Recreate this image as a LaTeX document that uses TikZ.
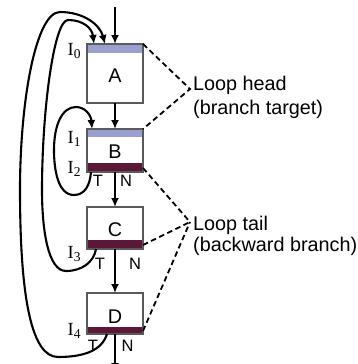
\documentclass[tikz,border=0pt]{standalone}
\usepackage{fontspec}
\setmainfont{Liberation Sans}
\newfontfamily\timesf{Liberation Serif}
\usetikzlibrary{arrows.meta}
\definecolor{headband}{RGB}{153,160,208}
\definecolor{tailband}{RGB}{92,22,56}
\definecolor{boxline}{RGB}{90,90,90}
\begin{document}
\begin{tikzpicture}[x=1pt,y=-1pt,
  blk/.style={draw=boxline, line width=1.1pt, fill=white, minimum width=56pt,
    inner sep=0pt, outer sep=0pt, font=\fontsize{19.8}{24}\selectfont},
  bands/.style 2 args={path picture={
    \fill[headband] (path picture bounding box.north west) rectangle ([yshift=-#1]path picture bounding box.north east);
    \fill[tailband] (path picture bounding box.south west) rectangle ([yshift=#2]path picture bounding box.south east);}},
  tshift/.style={text height=#1, text depth=0pt},
  conn/.style={line width=2.1pt, -{Latex[length=9pt,width=8pt]}},
  loopline/.style={line width=2.1pt, -{Latex[length=9pt,width=8pt]}},
  dashline/.style={line width=1.8pt, dash pattern=on 5.5pt off 3.5pt},
  tn/.style={inner sep=0pt, font=\fontsize{16.5}{17}\selectfont},
  ilab/.style={inner sep=0pt, anchor=base west, font=\timesf\fontsize{18.5}{18.5}\selectfont},
  note/.style={inner sep=0pt, anchor=base west, font=\fontsize{19.8}{24}\selectfont}]
\useasboundingbox (0,0) rectangle (358,364);

% blocks
\node[blk, minimum height=59pt, bands={9pt}{0pt}, tshift=17.2pt] (A) at (115,73.5) {A};
\node[blk, minimum height=43pt, bands={8pt}{9pt}, tshift=16.2pt] (B) at (115,150.5) {B};
\node[blk, minimum height=42pt, bands={0pt}{9pt}, tshift=16.2pt] (C) at (115,228) {C};
\node[blk, minimum height=41pt, bands={0pt}{7pt}, tshift=19.2pt] (D) at (115,313.5) {D};

% free ends and junctions
\coordinate (entry) at (115,7);
\coordinate (exit) at (115,372);
\coordinate (hj) at (190,89);
\coordinate (tj) at (190,222);

% straight flow
\draw[conn] (entry) -- (A.north);
\draw[conn] (A.south) -- (B.north);
\draw[conn] (B.south) -- (C.north);
\draw[conn] (C.south) -- (D.north);
\draw[conn] (D.south) -- (exit);

% loop B -> B
\draw[loopline] ([xshift=4pt]B.south west) .. controls (90,185) and (85,195) .. (74,195)
  .. controls (58,195) and (54,170) .. (54,150)
  .. controls (54,125) and (62,107) .. (76,107)
  .. controls (85,107) and (91,115) .. ([xshift=5pt]B.north west);
% loop C -> A
\draw[loopline] ([xshift=9pt]C.south west) .. controls (94,262) and (82,271) .. (66,271)
  .. controls (48,271) and (42,230) .. (42,190)
  .. controls (42,110) and (54,20) .. (68,20)
  .. controls (83,20) and (92,28) .. ([xshift=7pt]A.north west);
% loop D -> A
\draw[loopline] ([xshift=20pt]D.south west) .. controls (102,350) and (85,357) .. (58,357)
  .. controls (32,357) and (20,300) .. (20,190)
  .. controls (20,100) and (36,12) .. (60,12)
  .. controls (84,12) and (100,25) .. ([xshift=18pt]A.north west);

% T / N labels
\node[tn] (tB) at (98,181) {T};
\node[tn] (nB) at (126,181) {N};
\node[tn] (tC) at (100,264) {T};
\node[tn] (nC) at (135,264) {N};
\node[tn] (tD) at (93,346) {T};
\node[tn] (nD) at (127.5,346) {N};

% I labels
\node[ilab] (i0) at (67.5,55) {I\raisebox{-3pt}{\fontsize{13.5}{13.5}\selectfont 0}};
\node[ilab] (i1) at (67.5,143) {I\raisebox{-3pt}{\fontsize{13.5}{13.5}\selectfont 1}};
\node[ilab] (i2) at (67.5,173) {I\raisebox{-3pt}{\fontsize{13.5}{13.5}\selectfont 2}};
\node[ilab] (i3) at (67.5,258) {I\raisebox{-3pt}{\fontsize{13.5}{13.5}\selectfont 3}};
\node[ilab] (i4) at (67.5,335) {I\raisebox{-3pt}{\fontsize{13.5}{13.5}\selectfont 4}};

% dashed callouts
\draw[dashline] (A.north east) -- (hj) -- (B.north east);
\draw[dashline] ([yshift=4pt]B.south east) -- (tj);
\draw[dashline] ([yshift=4pt]C.south east) -- (tj);
\draw[dashline] ([yshift=3pt]D.south east) -- (tj);

\node[note] (h1) at (193,90) {Loop head};
\node[note] (h2) at (193,114) {(branch target)};
\node[note] (t1) at (193,230.5) {Loop tail};
\node[note] (t2) at (193,251) {(backward branch)};
\end{tikzpicture}
\end{document}
